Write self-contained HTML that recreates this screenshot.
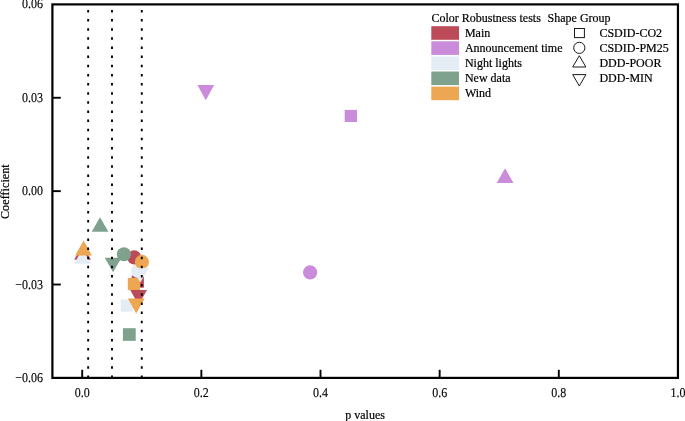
<!DOCTYPE html>
<html><head><meta charset="utf-8"><title>Chart</title>
<style>html,body{margin:0;padding:0;background:#fff}body{width:685px;height:421px;overflow:hidden}</style>
</head><body>
<svg width="685" height="421" viewBox="0 0 685 421" style="display:block;will-change:transform;font-family:'Liberation Serif',serif;font-size:12px;font-variant-ligatures:none" fill="#000">
<style>text{stroke:#000;stroke-width:0.2px}.tk text{text-rendering:geometricPrecision;stroke-width:0.12px}</style>
<rect width="685" height="421" fill="#fff"/>
<g><rect x="131.70" y="275.50" width="12.20" height="12.20" fill="#BC4B5A"/><rect x="344.70" y="109.90" width="12.30" height="12.10" fill="#CA8BDA"/><rect x="120.70" y="299.40" width="12.30" height="12.30" fill="#E4EDF3"/><rect x="122.90" y="328.20" width="12.80" height="12.65" fill="#7FA28F"/><rect x="127.80" y="278.00" width="12.25" height="12.10" fill="#EDA652"/><circle cx="134.20" cy="257.40" r="7.1" fill="#BC4B5A"/><circle cx="310.10" cy="272.40" r="7.1" fill="#CA8BDA"/><circle cx="138.10" cy="271.00" r="7.1" fill="#E4EDF3"/><circle cx="123.90" cy="254.25" r="7.1" fill="#7FA28F"/><circle cx="141.90" cy="261.90" r="7.1" fill="#EDA652"/><polygon points="82.55,245.00 90.95,259.80 74.15,259.80" fill="#BC4B5A"/><polygon points="505.10,168.30 513.50,183.00 496.70,183.00" fill="#CA8BDA"/><polygon points="82.50,249.00 90.90,263.80 74.10,263.80" fill="#E4EDF3"/><polygon points="100.05,217.30 108.45,231.80 91.65,231.80" fill="#7FA28F"/><polygon points="83.60,240.50 92.00,255.50 75.20,255.50" fill="#EDA652"/><polygon points="130.20,290.10 147.00,290.10 138.60,304.90" fill="#BC4B5A"/><polygon points="197.40,84.90 214.20,84.90 205.80,100.20" fill="#CA8BDA"/><polygon points="131.90,268.10 148.70,268.10 140.30,282.50" fill="#E4EDF3"/><polygon points="104.70,257.85 121.50,257.85 113.10,272.20" fill="#7FA28F"/><polygon points="127.85,298.40 144.65,298.40 136.25,313.40" fill="#EDA652"/></g>
<g stroke="#000" stroke-width="1.9" stroke-dasharray="2.5 6.64"><line x1="88.16" y1="9.9" x2="88.16" y2="378" /><line x1="111.99" y1="9.9" x2="111.99" y2="378" /><line x1="141.78" y1="9.9" x2="141.78" y2="378" /></g>
<rect x="52.4" y="4.4" width="625.55" height="373.50" fill="none" stroke="#000" stroke-width="2.2"/>
<g stroke="#000" stroke-width="1.9"><line x1="82.20" y1="377.9" x2="82.20" y2="369.8"/><line x1="201.35" y1="377.9" x2="201.35" y2="369.8"/><line x1="320.50" y1="377.9" x2="320.50" y2="369.8"/><line x1="439.65" y1="377.9" x2="439.65" y2="369.8"/><line x1="558.80" y1="377.9" x2="558.80" y2="369.8"/><line x1="52.4" y1="97.77" x2="60.8" y2="97.77"/><line x1="52.4" y1="191.15" x2="60.8" y2="191.15"/><line x1="52.4" y1="284.52" x2="60.8" y2="284.52"/></g>
<g class="tk"><text transform="translate(82.20 396.8) scale(1 1.12)" text-anchor="middle">0.0</text><text transform="translate(201.35 396.8) scale(1 1.12)" text-anchor="middle">0.2</text><text transform="translate(320.50 396.8) scale(1 1.12)" text-anchor="middle">0.4</text><text transform="translate(439.65 396.8) scale(1 1.12)" text-anchor="middle">0.6</text><text transform="translate(558.80 396.8) scale(1 1.12)" text-anchor="middle">0.8</text><text transform="translate(677.95 396.8) scale(1 1.12)" text-anchor="middle">1.0</text><text transform="translate(43 7.8) scale(1 1.12)" text-anchor="end">0.06</text><text transform="translate(43 101.8) scale(1 1.12)" text-anchor="end">0.03</text><text transform="translate(43 194.8) scale(1 1.12)" text-anchor="end">0.00</text><text transform="translate(43 288.8) scale(1 1.12)" text-anchor="end">−0.03</text><text transform="translate(43 381.8) scale(1 1.12)" text-anchor="end">−0.06</text></g>
<text x="365.1" y="418.5" text-anchor="middle">p values</text>
<text transform="translate(9.1 191.6) rotate(-90)" text-anchor="middle" style="letter-spacing:0.09px">Coefficient</text>
<text x="431.5" y="21.7">Color Robustness tests</text><text x="547.6" y="21.7">Shape Group</text><rect x="431.3" y="26.20" width="27.7" height="13.6" fill="#BC4B5A"/><text x="464.9" y="36.80">Main</text><rect x="431.3" y="41.30" width="27.7" height="13.6" fill="#CA8BDA"/><text x="464.9" y="51.90">Announcement time</text><rect x="431.3" y="56.40" width="27.7" height="13.6" fill="#E4EDF3"/><text x="464.9" y="67.00">Night lights</text><rect x="431.3" y="71.50" width="27.7" height="13.6" fill="#7FA28F"/><text x="464.9" y="82.10">New data</text><rect x="431.3" y="86.60" width="27.7" height="13.6" fill="#EDA652"/><text x="464.9" y="97.20">Wind</text><text x="599.4" y="36.70">CSDID-CO2</text><text x="599.4" y="51.80">CSDID-PM25</text><text x="599.4" y="66.90">DDD-POOR</text><text x="599.4" y="82.00">DDD-MIN</text><g fill="none" stroke="#1a1a1a" stroke-width="1"><rect x="574.5" y="28.5" width="9.9" height="9.1"/><circle cx="579.3" cy="47.85" r="5.6"/><polygon points="579.3,55.7 585.9,67.0 572.7,67.0"/><polygon points="572.7,74.6 585.9,74.6 579.3,86.0"/></g>
</svg>
</body></html>
